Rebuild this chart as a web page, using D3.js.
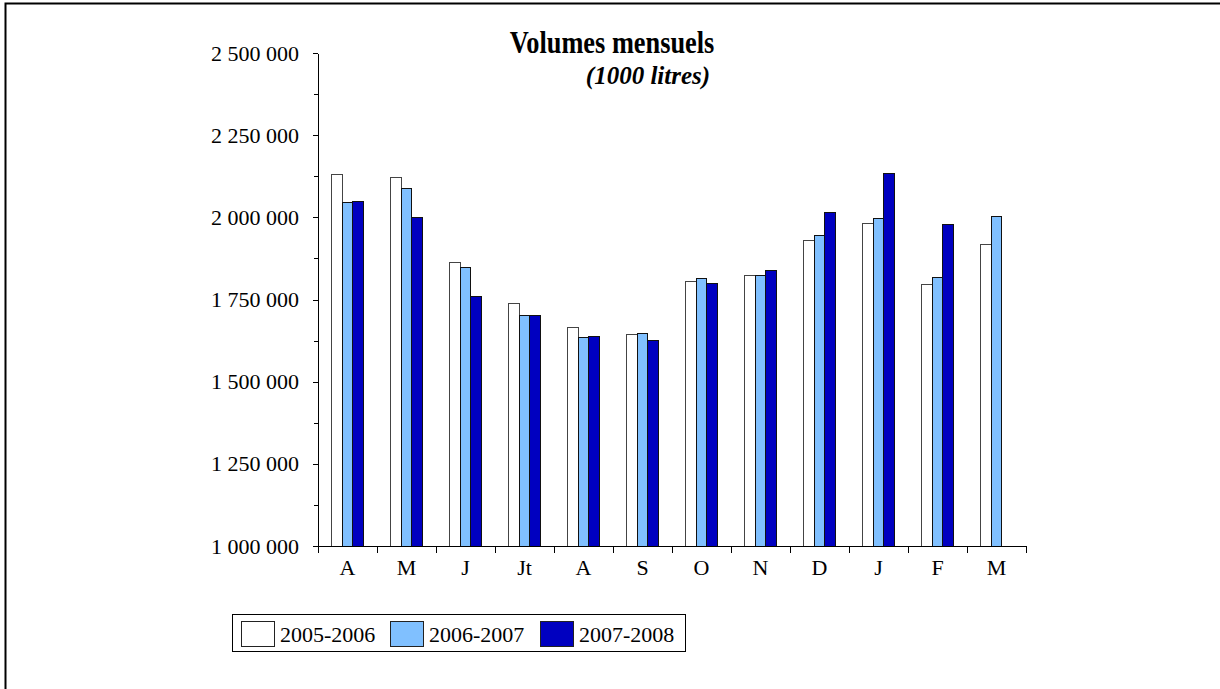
<!DOCTYPE html>
<meta charset="utf-8"/>
<head>
<script src="https://d3js.org/d3.v7.min.js"></script>
<style>
  body { margin: 0; background: #fff; }
  svg { display: block; }
  text { font-family: 'Liberation Serif', 'Times New Roman', serif; fill: #000; }
  .axis path, .axis line { stroke: #000; shape-rendering: crispEdges; }
  .bar { shape-rendering: crispEdges; }
</style>
</head>
<body>
<div id="chart"></div>
<script>

// data (1000 litres)
var months = ["A", "M", "J", "Jt", "A", "S", "O", "N", "D", "J", "F", "M"];
var seasons = ["2005-2006", "2006-2007", "2007-2008"];
var vol0506 = [2130000, 2122000, 1863000, 1737000, 1665000, 1644000, 1805000, 1822000, 1929000, 1980000, 1795000, 1917000];
var vol0607 = [2044000, 2088000, 1847000, 1702000, 1635000, 1646000, 1813000, 1824000, 1945000, 1995000, 1816000, 2003000];
var vol0708 = [2047000, 2001000, 1760000, 1700000, 1637000, 1624000, 1798000, 1839000, 2014000, 2134000, 1978000, null];
var yTicks = [1000000, 1250000, 1500000, 1750000, 2000000, 2250000, 2500000];
var colors = ["#ffffff", "#80c0ff", "#0000c0"];

var W = 1220, H = 689;
var plotL = 318, plotR = 1026, plotT = 53, plotB = 546;

var svg = d3.select("#chart").append("svg")
    .attr("width", W)
    .attr("height", H);

// outer frame (runs off the right and bottom edge)
svg.append("rect")
    .attr("x", 5.5).attr("y", 3.5)
    .attr("width", 1400).attr("height", 900)
    .attr("fill", "none")
    .attr("stroke", "#000")
    .attr("stroke-width", 2);

var idx = d3.range(months.length);
var x = d3.scaleBand().domain(idx).range([plotL, plotR]).padding(0);
var x1 = d3.scaleBand().domain(seasons).range([0, x.bandwidth()]).paddingInner(0).paddingOuter(1.27);
var y = d3.scaleLinear().domain([1000000, 2500000]).range([plotB, plotT]);

var series = [vol0506, vol0607, vol0708];

var fmt = function(v) { return d3.format(",")(v).replace(/,/g, " "); };

// minor ticks on y
var yMinor = d3.axisLeft(y)
    .tickValues(d3.range(1125000, 2500000, 250000))
    .tickSize(4)
    .tickFormat("");
svg.append("g").attr("class", "axis")
    .attr("transform", "translate(" + plotL + ",0)")
    .call(yMinor)
    .select(".domain").remove();

var yAxis = d3.axisLeft(y)
    .tickValues(yTicks)
    .tickSize(5)
    .tickSizeOuter(0)
    .tickPadding(14)
    .tickFormat(fmt);
var gy = svg.append("g").attr("class", "axis")
    .attr("transform", "translate(" + plotL + ",0)")
    .call(yAxis);
gy.selectAll("text")
    .style("font-size", "22px")
    .style("font-family", "'Liberation Serif', serif");

// bars
series.forEach(function(vals, s) {
  svg.append("g").selectAll("rect")
    .data(vals.map(function(v, i) { return { i: i, v: v }; }).filter(function(d) { return d.v != null; }))
    .enter().append("rect")
      .attr("class", "bar")
      .attr("x", function(d) { return x(d.i) + x1(seasons[s]); })
      .attr("y", function(d) { return y(d.v); })
      .attr("width", x1.bandwidth())
      .attr("height", function(d) { return plotB - y(d.v); })
      .attr("fill", colors[s])
      .attr("stroke", s == 0 ? "#444" : "#111")
      .attr("stroke-width", 1);
});

// x axis: ticks on the boundaries between months
var xb = d3.scaleLinear().domain([0, months.length]).range([plotL, plotR]);
svg.append("g").attr("class", "axis")
    .attr("transform", "translate(0," + plotB + ")")
    .call(d3.axisBottom(xb).ticks(months.length).tickSize(7).tickSizeOuter(0).tickFormat(""));

svg.append("g").selectAll("text")
    .data(months)
    .enter().append("text")
      .attr("x", function(d, i) { return x(i) + x.bandwidth() / 2; })
      .attr("y", plotB + 29)
      .attr("text-anchor", "middle")
      .style("font-size", "22px")
      .text(function(d) { return d; });

// title
svg.append("text")
    .attr("transform", "translate(612,53) scale(0.85,1)")
    .attr("text-anchor", "middle")
    .style("font-size", "31px")
    .style("font-weight", "bold")
    .text("Volumes mensuels");
svg.append("text")
    .attr("x", 648).attr("y", 84)
    .attr("text-anchor", "middle")
    .style("font-size", "25px")
    .style("font-weight", "bold")
    .style("font-style", "italic")
    .text("(1000 litres)");

// legend
var lg = svg.append("g");
lg.append("rect")
    .attr("x", 232.5).attr("y", 614.5)
    .attr("width", 453).attr("height", 37)
    .attr("fill", "#fff")
    .attr("stroke", "#000");
var legX = [241, 390, 540];
seasons.forEach(function(s, k) {
  lg.append("rect")
    .attr("x", legX[k] + 0.5).attr("y", 621.5)
    .attr("width", 33).attr("height", 25)
    .attr("fill", colors[k])
    .attr("stroke", "#222");
  lg.append("text")
    .attr("x", legX[k] + 39).attr("y", 642)
    .style("font-size", "22px")
    .text(s);
});

</script>
</body>
